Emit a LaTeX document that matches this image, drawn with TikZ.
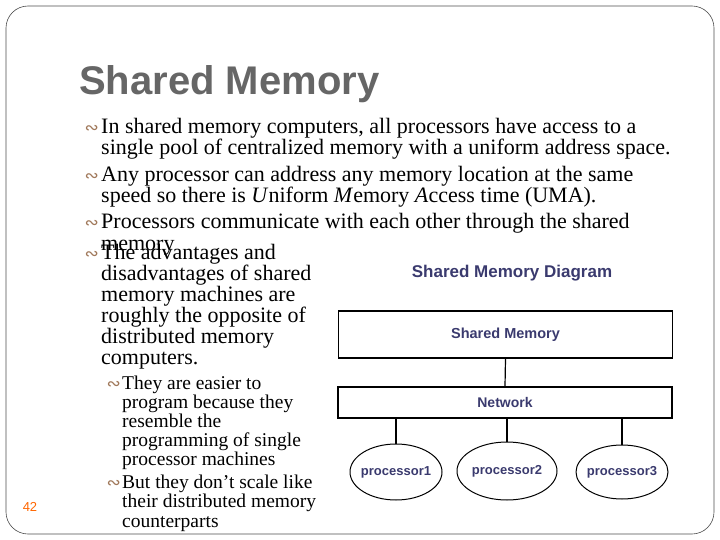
\documentclass[tikz,border=0pt]{standalone}
\usepackage{fontspec}
\setmainfont{Liberation Serif}
\newfontfamily\arialf{Liberation Sans}
\newfontfamily\djv{DejaVu Sans}
\usetikzlibrary{shapes.geometric}
\definecolor{bulc}{HTML}{A0785A}
\definecolor{dgblue}{HTML}{3A3A6E}
\begin{document}
\begin{tikzpicture}[x=1pt,y=-1pt,
 ln/.style={anchor=base west,inner sep=0pt,font=\fontsize{22}{22}\selectfont},
 sln/.style={anchor=base west,inner sep=0pt,font=\fontsize{19.5}{19.5}\selectfont},
 bul/.style={anchor=base east,inner sep=0pt,text=bulc,font=\djv\fontsize{17}{17}\selectfont},
 box/.style={draw,line width=1.2pt,minimum width=334pt,inner sep=0pt},
 dl/.style={text=dgblue,font=\arialf\bfseries\fontsize{17}{17}\selectfont},
 proc/.style={ellipse,draw,line width=1pt,inner sep=0pt},
 ptx/.style={text=dgblue,font=\arialf\bfseries\fontsize{13}{13}\selectfont}]
\useasboundingbox (0,0) rectangle (720,540);
\draw[line width=0.6pt,black!70,rounded corners=22pt] (6,6) rectangle (714,534);
\node[anchor=base west,inner sep=0pt,text=black!60,font=\arialf\bfseries\fontsize{40}{40}\selectfont] (title) at (79,95) {Shared Memory};
% main bullets
\foreach \y/\t in {134/{In shared memory computers, all processors have access to a},
 182/{Any processor can address any memory location at the same},
 229/{Processors communicate with each other through the shared},
 259/{The advantages and}}
 {\node[bul] at (99,\y) {∾}; \node[ln] at (101,\y) {\t};}
\node[ln] (l1b) at (101,155) {single pool of centralized memory with a uniform address space.};
\node[ln] (l2b) at (101,203) {speed so there is \textit{U}niform \textit{M}emory \textit{A}ccess time (UMA).};
\node[ln] (l3b) at (101,250) {memory};
\foreach \y/\t in {280/{disadvantages of shared},301/{memory machines are},322/{roughly the opposite of},343/{distributed memory},364/{computers.}}
 \node[ln] at (101,\y) {\t};
% sub bullets
\foreach \y/\t in {389/{They are easier to},488/{But they don't scale like}}
 {\node[bul] at (121,\y) {∾}; \node[sln] at (122,\y) {\t};}
\foreach \y/\t in {408/{program because they},427/{resemble the},446/{programming of single},465/{processor machines},507/{their distributed memory},527/{counterparts}}
 \node[sln] at (122,\y) {\t};
% diagram
\node[dl] (dt) at (512,273) {Shared Memory Diagram};
\node[box,minimum height=47pt] (mem) at (505.5,334.5) {};
\node[dl,font=\arialf\bfseries\fontsize{14.5}{14.5}\selectfont] at (mem) {Shared Memory};
\node[box,minimum height=31pt] (net) at (505,402.5) {};
\node[dl,font=\arialf\bfseries\fontsize{14}{14}\selectfont] at (net) {Network};
\draw[line width=1.2pt] (mem.south) -- (net.north);
\node[proc,minimum width=92pt,minimum height=56pt] (p1) at (396,472) {};
\node[proc,minimum width=100pt,minimum height=58pt] (p2) at (507,471) {};
\node[proc,minimum width=92pt,minimum height=54pt] (p3) at (622,472) {};
\node[ptx] at (p1) {processor1};
\node[ptx] at (p2) {processor2};
\node[ptx] at (p3) {processor3};
\foreach \p in {p1,p2,p3} \draw[line width=1.1pt] (net.south -| \p.north) -- (\p.north);
\node[text=orange!80!red,font=\arialf\fontsize{13}{13}\selectfont] (pg) at (30,507) {42};
\end{tikzpicture}
\end{document}
